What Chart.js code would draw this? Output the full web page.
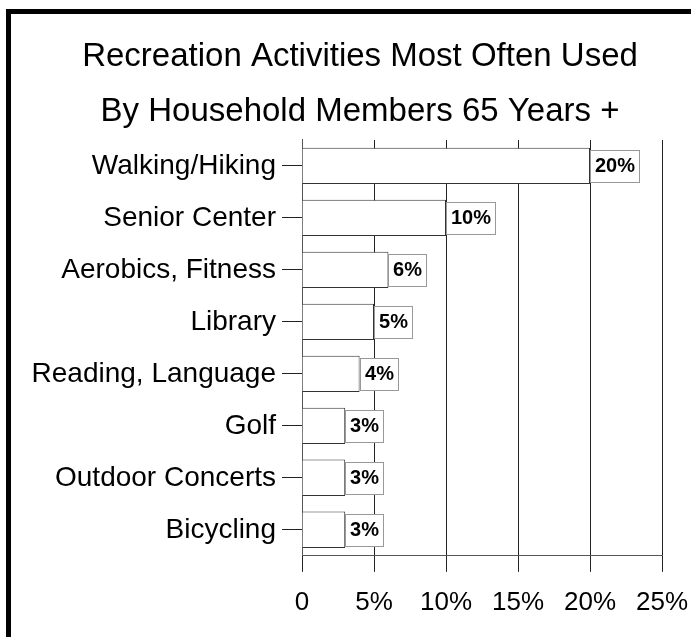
<!DOCTYPE html>
<html>
<head>
<meta charset="utf-8">
<script src="https://cdn.jsdelivr.net/npm/chart.js@4"></script>
<style>
  html, body { margin: 0; padding: 0; background: #fff; overflow: hidden; }
  #frame {
    position: absolute; left: 6px; top: 9px; width: 720px; height: 660px;
    border-left: 5px solid #000; border-top: 5px solid #000;
  }
  #recreation_chart { position: absolute; left: 11px; top: 14px; }
</style>
</head>
<body>
<div id="frame"></div>
<canvas id="recreation_chart" width="698" height="623"></canvas>
<script>
const activities = [
  "Walking/Hiking",
  "Senior Center",
  "Aerobics, Fitness",
  "Library",
  "Reading, Language",
  "Golf",
  "Outdoor Concerts",
  "Bicycling",
];
const percentUsed = [20, 10, 6, 5, 4, 3, 3, 3];
const titleLines = [
  "Recreation Activities Most Often Used",
  "By Household Members 65 Years +",
];
const xTicks = [0, 5, 10, 15, 20, 25];

(function () {
  const grapharea = document.getElementById("recreation_chart");
  const fontFamily = "'Liberation Sans', Arial, sans-serif";

  // boxed value label at the end of every bar
  const valueBoxes = {
    id: "valueBoxes",
    afterDatasetsDraw(chart) {
      const ctx = chart.ctx;
      const meta = chart.getDatasetMeta(0);
      ctx.save();
      ctx.font = "bold 20px " + fontFamily;
      ctx.textAlign = "center";
      ctx.textBaseline = "middle";
      meta.data.forEach((bar, i) => {
        const text = percentUsed[i] + "%";
        const w = Math.round(ctx.measureText(text).width + 9);
        const h = 32;
        const left = Math.round(bar.x) + 0.5;
        const top = Math.round(bar.y - h / 2) + 0.5;
        ctx.fillStyle = "#fff";
        ctx.fillRect(left, top, w, h);
        ctx.strokeStyle = "#999";
        ctx.lineWidth = 1;
        ctx.strokeRect(left, top, w, h);
        ctx.fillStyle = "#000";
        ctx.fillText(text, left + w / 2, bar.y + 1);
      });
      ctx.restore();
    },
  };

  const data = {
    labels: activities,
    datasets: [
      {
        data: percentUsed,
        backgroundColor: "#fff",
        borderColor: "#333",
        borderWidth: 1,
        barPercentage: 0.7,
        categoryPercentage: 1,
      },
    ],
  };

  const config = {
    type: "bar",
    data: data,
    plugins: [valueBoxes],
    options: {
      indexAxis: "y",
      responsive: false,
      animation: false,
      layout: {
        padding: { left: 0, right: 0, top: 0, bottom: 4 },
      },
      scales: {
        x: {
          min: xTicks[0],
          max: xTicks[xTicks.length - 1],
          afterBuildTicks: (scale) => {
            scale.ticks = xTicks.map((v) => ({ value: v }));
          },
          ticks: {
            color: "#000",
            padding: 15,
            font: { family: fontFamily, size: 26 },
            callback: (value) => (value === 0 ? "0" : value + "%"),
          },
          grid: {
            color: "#222",
            lineWidth: 1,
            tickLength: 16,
          },
          border: { color: "#555", width: 1 },
        },
        y: {
          afterFit: (scale) => {
            scale.width = 291;
          },
          ticks: {
            color: "#000",
            padding: 6,
            font: { family: fontFamily, size: 28 },
          },
          grid: {
            offset: false,
            drawOnChartArea: false,
            color: "#222",
            tickLength: 20,
          },
          border: { color: "#555", width: 1 },
        },
        // empty strip on the right, room for the last tick label;
        // the title still spans the whole canvas
        rightGap: {
          type: "linear",
          position: "right",
          afterFit: (scale) => {
            scale.width = 47;
          },
          ticks: { display: false },
          grid: { display: false },
          border: { display: false },
        },
      },
      plugins: {
        legend: { display: false },
        tooltip: { enabled: false },
        title: {
          display: true,
          text: titleLines,
          color: "#000",
          font: { family: fontFamily, size: 33, weight: "normal", lineHeight: 1.65 },
          padding: { top: 16, bottom: 1 },
        },
      },
    },
  };

  new Chart(grapharea, config);
})();
</script>
</body>
</html>
